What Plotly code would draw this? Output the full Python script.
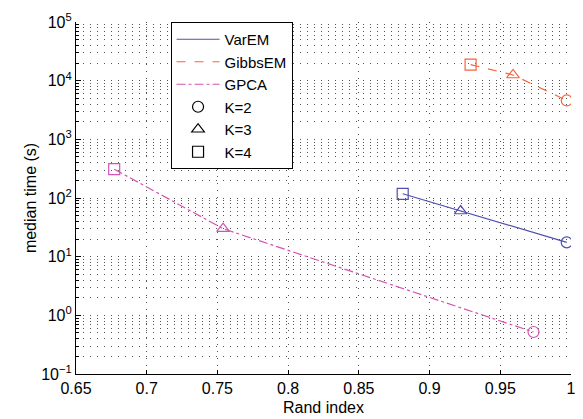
import plotly.graph_objects as go

# ---- data ----
k_labels = ["K=4", "K=3", "K=2"]
k_symbols = ["square-open", "triangle-up-open", "circle-open"]

varem_rand = [0.881, 0.922, 0.997]
varem_time = [118, 60, 17.5]

gibbs_rand = [0.929, 0.959, 0.997]
gibbs_time = [18800, 12500, 4600]

gpca_rand = [0.677, 0.754, 0.9735]
gpca_time = [310, 30, 0.52]

x_ticks = [0.65, 0.7, 0.75, 0.8, 0.85, 0.9, 0.95, 1.0]
x_ticktext = ["0.65", "0.7", "0.75", "0.8", "0.85", "0.9", "0.95", "1"]

y_ticks = [0.1, 1, 10, 100, 1000, 10000, 100000]
y_ticktext = ["10<sup>−1</sup>", "10<sup>0</sup>", "10<sup>1</sup>", "10<sup>2</sup>",
              "10<sup>3</sup>", "10<sup>4</sup>", "10<sup>5</sup>"]

series = [
    ("VarEM", varem_rand, varem_time, "#4f4fb0", "solid"),
    ("GibbsEM", gibbs_rand, gibbs_time, "#f2653f", "dash"),
    ("GPCA", gpca_rand, gpca_time, "#d452b2", "dashdot"),
]

# minor log gridline positions (2..9 within each decade)
y_minor = [m * 10.0 ** e for e in range(-1, 5) for m in range(2, 10)]

FONT = "Liberation Sans"
FS = 16

fig = go.Figure()

for name, xs, ys, col, dash in series:
    fig.add_trace(go.Scatter(
        x=xs, y=ys, mode="lines", name=name,
        line=dict(color=col, width=1.2, dash=dash),
    ))

for name, xs, ys, col, dash in series:
    fig.add_trace(go.Scatter(
        x=xs, y=ys, mode="markers", showlegend=False,
        marker=dict(symbol=k_symbols, size=11, color=col,
                    line=dict(color=col, width=1.2)),
    ))

# legend-only marker entries
for lab, sym in zip(reversed(k_labels), reversed(k_symbols)):
    fig.add_trace(go.Scatter(
        x=[None], y=[None], mode="markers", name=lab,
        marker=dict(symbol=sym, size=11, color="black",
                    line=dict(color="black", width=1.2)),
    ))

grid_dash = "1px,6px"

fig.update_layout(
    width=583, height=419,
    margin=dict(l=76, r=12, t=22, b=45),
    paper_bgcolor="white", plot_bgcolor="white",
    font=dict(family=FONT, size=FS, color="black"),
    showlegend=True,
    legend=dict(
        x=0.191, y=1, xanchor="left", yanchor="top",
        bgcolor="white", bordercolor="black", borderwidth=1,
        font=dict(family=FONT, size=15, color="black"),
        itemwidth=43,
        tracegroupgap=0,
    ),
    xaxis=dict(
        range=[0.65, 1.0], automargin=False,
        tickvals=x_ticks, ticktext=x_ticktext,
        ticks="inside", ticklen=4, tickcolor="black",
        showline=True, linecolor="black", linewidth=1.2, mirror=False,
        showgrid=True, gridcolor="#555555", gridwidth=1, griddash=grid_dash,
        zeroline=False,
        title=dict(text="Rand index", standoff=5,
                   font=dict(family=FONT, size=FS)),
        tickfont=dict(family=FONT, size=FS),
    ),
    yaxis=dict(
        type="log", range=[-1, 5], automargin=False,
        tickvals=y_ticks, ticktext=y_ticktext,
        ticks="inside", ticklen=5, tickcolor="black",
        showline=True, linecolor="black", linewidth=1.2, mirror=False,
        showgrid=True, gridcolor="#555555", gridwidth=1, griddash=grid_dash,
        minor=dict(tickmode="array", tickvals=y_minor,
                   ticks="inside", ticklen=3, tickcolor="black",
                   showgrid=True, gridcolor="#555555", gridwidth=1,
                   griddash=grid_dash),
        zeroline=False,
        title=dict(text="median time (s)", standoff=0,
                   font=dict(family=FONT, size=FS)),
        tickfont=dict(family=FONT, size=FS),
    ),
)

fig.write_html("out.html")
